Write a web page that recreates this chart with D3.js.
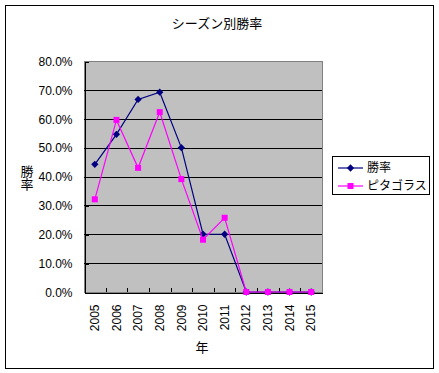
<!DOCTYPE html>
<html><head><meta charset="utf-8">
<script src="https://cdn.jsdelivr.net/npm/d3@7/dist/d3.min.js"></script>
<style>
html,body{margin:0;padding:0;background:#fff;}
text{font-family:"Liberation Sans",Arial,sans-serif;}
.jp{font-family:"Noto Sans CJK JP","Liberation Sans",sans-serif;}
.vert{writing-mode:vertical-rl;text-orientation:upright;}
</style></head>
<body>
<svg id="chart" width="439" height="373"></svg>
<script>
const years = ["2005","2006","2007","2008","2009","2010","2011","2012","2013","2014","2015"];
const winRate = [0.442, 0.546, 0.667, 0.692, 0.500, 0.200, 0.200, 0.000, 0.000, 0.000, 0.000];
const pythag = [0.321, 0.596, 0.430, 0.623, 0.391, 0.181, 0.257, 0.000, 0.000, 0.000, 0.000];
const yTicks = [0, 0.1, 0.2, 0.3, 0.4, 0.5, 0.6, 0.7, 0.8];
const seriesNames = ["勝率", "ピタゴラス"];
const titleText = "シーズン別勝率";
const xTitle = "年";
const yTitle = "勝率";

const svg = d3.select("#chart");
svg.append("rect").attr("x",0).attr("y",0).attr("width",439).attr("height",373).attr("fill","#fff");
svg.append("rect").attr("x",5.5).attr("y",5.5).attr("width",428).attr("height",363)
  .attr("fill","#fff").attr("stroke","#000").attr("stroke-width",1);

const L = 84, R = 322, T = 61, B = 292;
const x = d3.scaleBand().domain(years).range([L, R]).padding(0);
const y = d3.scaleLinear().domain([0, 0.8]).range([B, T]);

// plot area
svg.append("rect").attr("x",L).attr("y",T).attr("width",R-L).attr("height",B-T)
  .attr("fill","#C0C0C0").attr("stroke","#808080").attr("stroke-width",1)
  .attr("shape-rendering","crispEdges");

// gridlines
svg.append("g").selectAll("line").data(yTicks.filter(d=>d>0 && d<0.8)).join("line")
  .attr("x1",L).attr("x2",R).attr("y1",d=>Math.round(y(d))+0.5).attr("y2",d=>Math.round(y(d))+0.5)
  .attr("stroke","#000").attr("stroke-width",1).attr("shape-rendering","crispEdges");

// y axis
const yAxis = d3.axisLeft(y).tickValues(yTicks).tickFormat(d3.format(".1%")).tickSize(-4).tickPadding(12);
const gy = svg.append("g").attr("transform",`translate(${L+0.5},0.5)`).call(yAxis);
gy.select(".domain").attr("stroke","#000").attr("shape-rendering","crispEdges");
gy.selectAll(".tick line").attr("stroke","#000").attr("shape-rendering","crispEdges");
gy.selectAll(".tick text").attr("font-size","12px").attr("fill","#000")
  .attr("font-family","'Liberation Sans',Arial,sans-serif").attr("x",-12);

// x axis
const xAxis = d3.axisBottom(x).tickSize(0).tickFormat(d=>d);
const gx = svg.append("g").attr("transform",`translate(0,${B+0.5})`).call(xAxis);
gx.select(".domain").attr("stroke","#000").attr("shape-rendering","crispEdges");
gx.selectAll(".tick text").attr("font-size","12px").attr("fill","#000")
  .attr("font-family","'Liberation Sans',Arial,sans-serif")
  .attr("transform","rotate(-90)").attr("text-anchor","end")
  .attr("x",-12).attr("y",0).attr("dy","0.35em");
// category boundary ticks (inside)
const bounds = years.slice(1).map(d=>x(d));
svg.append("g").selectAll("line").data(bounds).join("line")
  .attr("x1",d=>Math.round(d)+0.5).attr("x2",d=>Math.round(d)+0.5)
  .attr("y1",B).attr("y2",B-4).attr("stroke","#000").attr("shape-rendering","crispEdges");

const cx = d => x(d) + x.bandwidth()/2;
const line = d3.line().x((d,i)=>cx(years[i])).y(d=>y(d));

// series 1 (navy, diamonds)
svg.append("path").datum(winRate).attr("d",line).attr("fill","none")
  .attr("stroke","#000080").attr("stroke-width",1.2);
svg.append("g").selectAll("path").data(winRate).join("path")
  .attr("d",d3.symbol(d3.symbolDiamond2 || d3.symbolDiamond, 34))
  .attr("transform",(d,i)=>`translate(${cx(years[i])},${y(d)})`)
  .attr("fill","#000080");

// series 2 (magenta, squares)
svg.append("path").datum(pythag).attr("d",line).attr("fill","none")
  .attr("stroke","#FF00FF").attr("stroke-width",1.2);
svg.append("g").selectAll("rect").data(pythag).join("rect")
  .attr("x",(d,i)=>cx(years[i])-3).attr("y",d=>y(d)-3).attr("width",6).attr("height",6)
  .attr("fill","#FF00FF");

// title
svg.append("text").attr("class","jp").attr("x",217).attr("y",23).attr("dy","0.35em")
  .attr("text-anchor","middle").attr("font-size","13px").text(titleText);
// x title
svg.append("text").attr("class","jp").attr("x",202).attr("y",347).attr("dy","0.35em")
  .attr("text-anchor","middle").attr("font-size","13px").text(xTitle);
// y title (vertical, upright)
svg.append("text").attr("class","jp vert").attr("x",27).attr("y",177.5)
  .attr("text-anchor","middle").attr("font-size","13px").text(yTitle);

// legend
const lg = svg.append("g");
lg.append("rect").attr("x",332.5).attr("y",156.5).attr("width",97).attr("height",38)
  .attr("fill","#fff").attr("stroke","#000").attr("stroke-width",1);
const legColors = ["#000080","#FF00FF"];
seriesNames.forEach((name,i)=>{
  const yy = 168 + i*18;
  lg.append("line").attr("x1",338).attr("x2",363).attr("y1",yy).attr("y2",yy)
    .attr("stroke",legColors[i]).attr("stroke-width",1.2);
  if(i===0){
    lg.append("path").attr("d",d3.symbol(d3.symbolDiamond2 || d3.symbolDiamond, 34))
      .attr("transform",`translate(350.5,${yy})`).attr("fill",legColors[i]);
  } else {
    lg.append("rect").attr("x",347.5).attr("y",yy-3).attr("width",6).attr("height",6).attr("fill",legColors[i]);
  }
  lg.append("text").attr("class","jp").attr("x",367).attr("y",yy).attr("dy","0.35em")
    .attr("font-size","12px").text(name);
});
</script>
</body></html>
